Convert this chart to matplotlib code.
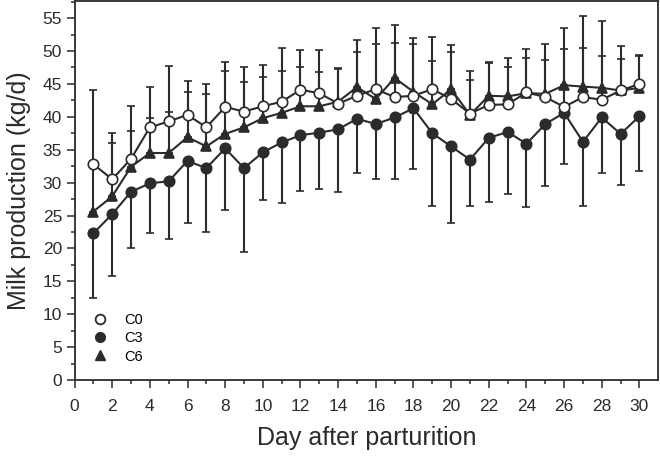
import matplotlib
matplotlib.use("Agg")
import matplotlib.pyplot as plt
from matplotlib.lines import Line2D
from matplotlib.ticker import MultipleLocator
import numpy as np

plt.rcParams['font.family'] = ['Liberation Sans', 'DejaVu Sans']

days = list(range(1, 31))

c0_mean = [32.8, 30.5, 33.6, 38.4, 39.3, 40.3, 38.4, 41.5, 40.8, 41.6,
           42.3, 44.1, 43.6, 42.0, 43.2, 44.2, 43.0, 43.2, 44.2, 42.7,
           40.5, 41.8, 41.9, 43.7, 43.0, 41.5, 43.0, 42.6, 44.0, 45.0]
c0_top = [44.1, 37.6, 41.7, 44.5, 47.7, 45.4, 45.0, 48.3, 47.6, 47.8,
          50.4, 50.2, 50.2, 47.2, 49.8, 53.5, 51.2, 51.0, 52.1, 49.8,
          47.0, 48.2, 47.5, 50.3, 51.1, 50.3, 50.4, 49.2, 50.8, 49.4]

c3_mean = [22.3, 25.2, 28.6, 29.9, 30.2, 33.3, 32.2, 35.2, 32.2, 34.6,
           36.1, 37.2, 37.6, 38.1, 39.7, 38.9, 39.9, 41.3, 37.5, 35.5,
           33.5, 36.8, 37.7, 35.9, 38.9, 40.6, 36.2, 39.9, 37.4, 40.1]
c3_bottom = [12.4, 15.8, 20.1, 22.4, 21.4, 23.8, 22.5, 25.9, 19.5, 27.3,
             26.9, 28.8, 29.0, 28.6, 31.4, 30.6, 30.6, 32.0, 26.5, 23.8,
             26.4, 27.0, 28.2, 26.3, 29.5, 32.8, 26.5, 31.5, 29.7, 31.8]

c6_mean = [25.6, 27.9, 32.4, 34.5, 34.5, 36.9, 35.5, 37.4, 38.4, 39.8,
           40.6, 41.6, 41.6, 42.3, 44.5, 42.7, 45.9, 43.8, 41.9, 44.2,
           40.3, 43.2, 43.1, 43.6, 43.5, 44.8, 44.6, 44.4, 44.0, 44.4]
c6_top = [33.0, 36.0, 37.9, 39.8, 40.8, 43.8, 43.4, 46.9, 45.3, 46.0,
          46.9, 47.5, 46.8, 47.4, 51.6, 51.0, 54.0, 52.0, 48.5, 50.9,
          45.6, 48.4, 48.9, 48.9, 48.7, 53.5, 55.3, 54.6, 48.8, 49.2]

labels = ["C0", "C3", "C6"]

ink = "#2b2b2b"

fig = plt.figure(figsize=(6.6, 4.61), dpi=100)
ax = fig.add_axes([0.1129, 0.1757, 0.8845, 0.8221])

x = np.array(days)
lw = 1.5
ms = 7.5
cap = 3

def up(mean, top):
    m = np.array(mean); t = np.array(top)
    return [np.zeros_like(m), t - m]

def down(mean, bottom):
    m = np.array(mean); b = np.array(bottom)
    return [m - b, np.zeros_like(m)]

eb_kw = dict(ecolor=ink, elinewidth=lw, capsize=cap, capthick=lw, color=ink,
             linewidth=lw, markeredgecolor=ink, markeredgewidth=1.2)

ax.errorbar(x, c3_mean, yerr=down(c3_mean, c3_bottom), fmt='-o', ms=ms,
            markerfacecolor=ink, zorder=3, **eb_kw)
ax.errorbar(x, c6_mean, yerr=up(c6_mean, c6_top), fmt='-^', ms=ms,
            markerfacecolor=ink, zorder=4, **eb_kw)
ax.errorbar(x, c0_mean, yerr=up(c0_mean, c0_top), fmt='-o', ms=ms,
            markerfacecolor='white', zorder=5, **eb_kw)

ax.set_xlim(0, 31)
ax.set_ylim(0, 57.6)
ax.set_xticks(range(0, 31, 2))
ax.set_xticks([d for d in range(1, 31, 2)], minor=True)
ax.set_yticks(range(0, 56, 5))
ax.yaxis.set_minor_locator(MultipleLocator(2.5))

for s in ax.spines.values():
    s.set_color(ink)
    s.set_linewidth(1.3)

ax.tick_params(axis='both', which='major', direction='out', length=5.5,
               width=1.1, color=ink, labelsize=12.5, labelcolor=ink)
ax.tick_params(axis='both', which='minor', direction='out', length=3,
               width=1.1, color=ink)
ax.tick_params(axis='x', which='major', pad=8)

ax.set_xlabel("Day after parturition", fontsize=18, color=ink, labelpad=9)
ax.set_ylabel("Milk production (kg/d)", fontsize=18, color=ink, labelpad=8)

handles = [
    Line2D([], [], marker='o', linestyle='none', ms=7, markerfacecolor='white',
           markeredgecolor=ink, markeredgewidth=1.3),
    Line2D([], [], marker='o', linestyle='none', ms=7, markerfacecolor=ink,
           markeredgecolor=ink),
    Line2D([], [], marker='^', linestyle='none', ms=7, markerfacecolor=ink,
           markeredgecolor=ink),
]
ax.legend(handles, labels, loc='lower left', bbox_to_anchor=(0.018, 0.028),
          frameon=False, fontsize=10.5, handlelength=1.2, handletextpad=1.1,
          labelspacing=0.3, borderaxespad=0)

fig.savefig("out.png", dpi=100)
